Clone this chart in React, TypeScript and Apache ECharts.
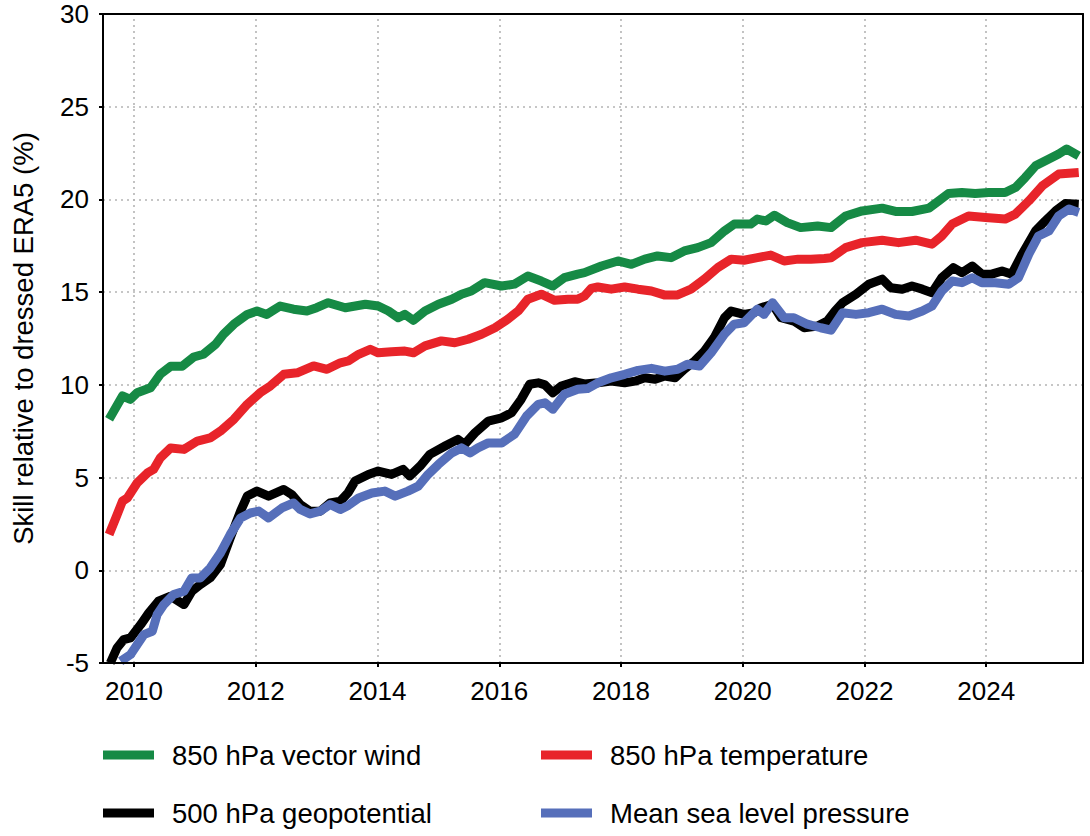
import React, { useEffect, useRef } from "react";
import * as echarts from "echarts";

// ---- Axis ticks ----
const xTickYears = [2010, 2012, 2014, 2016, 2018, 2020, 2022, 2024];
const yMin = -5;
const yMax = 30;
const yStep = 5;
const xMin = 2009.49;
const xMax = 2025.59;

// ---- Series names ----
const names = [
  "850 hPa vector wind",
  "850 hPa temperature",
  "500 hPa geopotential",
  "Mean sea level pressure",
];
const colors = ["#168a45", "#e8242a", "#000000", "#566fba"];

// ---- 850 hPa vector wind ----
const windYears = [
  2009.59, 2009.81, 2009.94, 2010.05, 2010.27, 2010.35, 2010.43, 2010.6, 2010.79, 2010.98,
  2011.14, 2011.34, 2011.47, 2011.64, 2011.86, 2012.02, 2012.18, 2012.4, 2012.62, 2012.84,
  2013.0, 2013.19, 2013.47, 2013.8, 2014.01, 2014.18, 2014.34, 2014.45, 2014.59, 2014.78,
  2015.0, 2015.22, 2015.38, 2015.54, 2015.76, 2016.04, 2016.25, 2016.47, 2016.69, 2016.88,
  2017.07, 2017.29, 2017.4, 2017.68, 2017.95, 2018.17, 2018.39, 2018.6, 2018.82, 2019.04,
  2019.26, 2019.48, 2019.7, 2019.86, 2020.13, 2020.24, 2020.38, 2020.52, 2020.73, 2020.95,
  2021.23, 2021.45, 2021.69, 2021.96, 2022.29, 2022.51, 2022.78, 2023.06, 2023.22, 2023.38,
  2023.6, 2023.82, 2024.04, 2024.31, 2024.48, 2024.64, 2024.81, 2025.03, 2025.19, 2025.32,
  2025.52,
];
const windValues = [
  8.14, 9.4, 9.22, 9.57, 9.84, 10.2, 10.57, 11.0, 11.0, 11.5,
  11.65, 12.19, 12.73, 13.27, 13.8, 13.98, 13.8, 14.25, 14.08, 13.98,
  14.16, 14.43, 14.16, 14.35, 14.25, 13.98, 13.62, 13.8, 13.48, 13.98,
  14.35, 14.62, 14.89, 15.06, 15.51, 15.33, 15.43, 15.87, 15.6, 15.33,
  15.78, 15.97, 16.05, 16.41, 16.68, 16.5, 16.78, 16.95, 16.86, 17.22,
  17.4, 17.67, 18.3, 18.67, 18.67, 18.94, 18.84, 19.15, 18.75, 18.48,
  18.57, 18.48, 19.11, 19.38, 19.53, 19.35, 19.35, 19.53, 19.92, 20.32,
  20.37, 20.32, 20.37, 20.37, 20.64, 21.18, 21.81, 22.18, 22.45, 22.72,
  22.35,
];

// ---- 850 hPa temperature ----
const tempYears = [
  2009.59, 2009.7, 2009.81, 2009.89, 2010.05, 2010.22, 2010.32, 2010.43, 2010.6, 2010.82,
  2011.04, 2011.25, 2011.42, 2011.64, 2011.86, 2012.07, 2012.24, 2012.46, 2012.68, 2012.95,
  2013.17, 2013.39, 2013.52, 2013.69, 2013.88, 2014.01, 2014.23, 2014.45, 2014.59, 2014.78,
  2015.05, 2015.27, 2015.49, 2015.71, 2015.93, 2016.14, 2016.31, 2016.47, 2016.69, 2016.91,
  2017.13, 2017.29, 2017.4, 2017.51, 2017.62, 2017.84, 2018.06, 2018.28, 2018.5, 2018.71,
  2018.93, 2019.15, 2019.37, 2019.59, 2019.81, 2020.02, 2020.24, 2020.46, 2020.68, 2020.91,
  2021.12, 2021.34, 2021.45, 2021.69, 2021.96, 2022.29, 2022.56, 2022.84, 2023.11, 2023.27,
  2023.44, 2023.71, 2023.99, 2024.31, 2024.48, 2024.7, 2024.92, 2025.19, 2025.52,
];
const tempValues = [
  1.93, 2.82, 3.73, 3.9, 4.71, 5.25, 5.44, 6.06, 6.6, 6.52,
  6.97, 7.14, 7.51, 8.14, 8.95, 9.57, 9.94, 10.57, 10.65, 11.02,
  10.84, 11.19, 11.29, 11.65, 11.92, 11.73, 11.79, 11.82, 11.73, 12.1,
  12.37, 12.27, 12.46, 12.73, 13.08, 13.54, 13.98, 14.62, 14.89, 14.56,
  14.62, 14.62, 14.79, 15.2, 15.28, 15.16, 15.28, 15.16, 15.06, 14.85,
  14.85, 15.16, 15.7, 16.32, 16.78, 16.72, 16.86, 17.0, 16.68, 16.78,
  16.78, 16.81, 16.85, 17.4, 17.67, 17.8, 17.67, 17.8, 17.59, 18.03,
  18.67, 19.11, 19.02, 18.94, 19.21, 19.92, 20.73, 21.37, 21.45,
];

// ---- 500 hPa geopotential ----
const geoYears = [
  2009.61, 2009.72, 2009.83, 2009.94, 2010.11, 2010.24, 2010.4, 2010.6, 2010.82, 2010.95,
  2011.09, 2011.25, 2011.42, 2011.58, 2011.75, 2011.86, 2012.02, 2012.21, 2012.46, 2012.59,
  2012.73, 2012.89, 2013.06, 2013.22, 2013.39, 2013.52, 2013.63, 2013.85, 2014.01, 2014.23,
  2014.42, 2014.53, 2014.7, 2014.86, 2015.11, 2015.32, 2015.43, 2015.6, 2015.82, 2016.04,
  2016.2, 2016.36, 2016.5, 2016.64, 2016.75, 2016.88, 2017.02, 2017.24, 2017.4, 2017.62,
  2017.84, 2018.06, 2018.23, 2018.39, 2018.56, 2018.72, 2018.89, 2019.04, 2019.21, 2019.37,
  2019.53, 2019.7, 2019.81, 2020.02, 2020.19, 2020.3, 2020.49, 2020.63, 2020.84, 2021.01,
  2021.23, 2021.39, 2021.52, 2021.64, 2021.86, 2022.07, 2022.29, 2022.43, 2022.62, 2022.78,
  2022.95, 2023.11, 2023.27, 2023.46, 2023.6, 2023.77, 2023.93, 2024.09, 2024.26, 2024.42,
  2024.59, 2024.81, 2024.97, 2025.14, 2025.3, 2025.52,
];
const geoValues = [
  -5.0, -4.19, -3.74, -3.65, -2.93, -2.31, -1.67, -1.4, -1.85, -1.13,
  -0.77, -0.41, 0.31, 1.74, 3.19, 4.0, 4.27, 4.0, 4.36, 4.09,
  3.55, 3.19, 3.19, 3.63, 3.73, 4.2, 4.81, 5.17, 5.35, 5.17,
  5.44, 5.08, 5.62, 6.25, 6.7, 7.06, 6.79, 7.41, 8.05, 8.22,
  8.49, 9.22, 10.03, 10.11, 10.0, 9.57, 9.94, 10.17, 10.05, 10.11,
  10.2, 10.11, 10.2, 10.38, 10.3, 10.48, 10.38, 10.84, 11.29, 11.82,
  12.54, 13.62, 13.98, 13.8, 13.89, 14.16, 14.35, 13.62, 13.44, 13.08,
  13.17, 13.44, 14.0, 14.43, 14.89, 15.43, 15.7, 15.24, 15.16, 15.33,
  15.16, 14.97, 15.78, 16.32, 16.05, 16.41, 15.97, 15.97, 16.14, 15.97,
  17.05, 18.3, 18.84, 19.38, 19.78, 19.74,
];

// ---- Mean sea level pressure ----
const mslpYears = [
  2009.78, 2009.94, 2010.05, 2010.16, 2010.3, 2010.38, 2010.49, 2010.65, 2010.82, 2010.95,
  2011.09, 2011.25, 2011.42, 2011.58, 2011.75, 2011.91, 2012.05, 2012.21, 2012.43, 2012.62,
  2012.73, 2012.89, 2013.06, 2013.22, 2013.39, 2013.52, 2013.69, 2013.91, 2014.12, 2014.29,
  2014.5, 2014.67, 2014.83, 2015.0, 2015.22, 2015.38, 2015.52, 2015.65, 2015.82, 2016.04,
  2016.25, 2016.45, 2016.64, 2016.75, 2016.88, 2017.07, 2017.29, 2017.45, 2017.62, 2017.84,
  2018.06, 2018.28, 2018.5, 2018.72, 2018.93, 2019.09, 2019.29, 2019.48, 2019.7, 2019.86,
  2020.02, 2020.24, 2020.35, 2020.49, 2020.68, 2020.84, 2021.06, 2021.28, 2021.45, 2021.64,
  2021.86, 2022.07, 2022.29, 2022.51, 2022.73, 2022.95, 2023.11, 2023.27, 2023.44, 2023.6,
  2023.77, 2023.93, 2024.15, 2024.37, 2024.53, 2024.7, 2024.86, 2025.03, 2025.19, 2025.36,
  2025.52,
];
const mslpValues = [
  -4.91, -4.55, -4.01, -3.47, -3.29, -2.39, -1.85, -1.31, -1.13, -0.41,
  -0.41, 0.12, 0.94, 1.93, 2.82, 3.09, 3.19, 2.82, 3.36, 3.63,
  3.28, 3.04, 3.19, 3.55, 3.28, 3.5, 3.9, 4.17, 4.27, 4.0,
  4.27, 4.54, 5.17, 5.71, 6.33, 6.6, 6.33, 6.6, 6.87, 6.87,
  7.33, 8.32, 8.95, 9.03, 8.68, 9.49, 9.76, 9.8, 10.11, 10.38,
  10.57, 10.78, 10.89, 10.74, 10.84, 11.11, 11.02, 11.73, 12.73, 13.27,
  13.35, 14.08, 13.8, 14.43, 13.62, 13.62, 13.27, 13.08, 12.95, 13.89,
  13.8, 13.89, 14.08, 13.8, 13.71, 13.98, 14.25, 15.06, 15.6, 15.51,
  15.78, 15.51, 15.51, 15.43, 15.78, 17.05, 18.03, 18.3, 19.11, 19.48,
  19.3,
];

const yAxisName = "Skill relative to dressed ERA5 (%)";
const FONT = "'Liberation Sans', Arial, Helvetica, sans-serif";
const GRID_COLOR = "#b4b4b4";

function pairs(xs: number[], ys: number[]) {
  return xs.map((x, i) => [x, ys[i]]);
}

export default function App() {
  const ref = useRef<HTMLDivElement>(null);

  useEffect(() => {
    if (!ref.current) return;
    const chart = echarts.init(ref.current, undefined, { renderer: "svg" });
    const seriesData = [
      pairs(windYears, windValues),
      pairs(tempYears, tempValues),
      pairs(geoYears, geoValues),
      pairs(mslpYears, mslpValues),
    ];
    const dotted = { color: GRID_COLOR, width: 1.6, type: [2, 4] as any };
    const legendCommon = {
      orient: "vertical" as const,
      top: 741,
      padding: 0,
      itemWidth: 51,
      itemHeight: 9,
      itemGap: 30,
      icon: "rect",
      itemStyle: { borderWidth: 0 },
      textStyle: { fontSize: 27.5, color: "#000", fontFamily: FONT, padding: [0, 0, 0, 13] },
      selectedMode: false,
    };
    const boxLine = { show: true, onZero: false, lineStyle: { color: "#000", width: 2 } };
    chart.setOption({
      animation: false,
      textStyle: { fontFamily: FONT },
      grid: { left: 103, right: 7, top: 14, bottom: 173, containLabel: false },
      legend: [
        { ...legendCommon, left: 103, data: [names[0], names[2]] },
        { ...legendCommon, left: 541, data: [names[1], names[3]] },
      ],
      xAxis: [
        {
          type: "value",
          min: xMin,
          max: xMax,
          position: "bottom",
          axisLine: boxLine,
          axisTick: {
            show: true,
            inside: false,
            length: 4,
            lineStyle: { color: "#000", width: 2 },
            customValues: xTickYears,
          },
          axisLabel: {
            fontSize: 26,
            color: "#000",
            margin: 15,
            fontFamily: FONT,
            customValues: xTickYears,
            formatter: (v: number) => String(Math.round(v)),
          },
          splitLine: { show: false },
          z: 10,
        },
        {
          type: "value",
          min: xMin,
          max: xMax,
          position: "top",
          axisLine: boxLine,
          axisTick: { show: false },
          axisLabel: { show: false },
          splitLine: { show: false },
          z: 10,
        },
      ],
      yAxis: [
        {
          type: "value",
          min: yMin,
          max: yMax,
          interval: yStep,
          position: "left",
          name: yAxisName,
          nameLocation: "middle",
          nameGap: 66,
          nameTextStyle: { fontSize: 27.5, color: "#000", fontFamily: FONT },
          axisLine: boxLine,
          axisTick: { show: true, inside: false, length: 4, lineStyle: { color: "#000", width: 2 } },
          axisLabel: { fontSize: 26, color: "#000", margin: 14, fontFamily: FONT },
          splitLine: { show: true, showMinLine: false, showMaxLine: false, lineStyle: dotted },
          z: 0,
        },
        {
          type: "value",
          min: yMin,
          max: yMax,
          position: "right",
          axisLine: boxLine,
          axisTick: { show: false },
          axisLabel: { show: false },
          splitLine: { show: false },
          z: 10,
        },
      ],
      series: names.map((name, i) => ({
        name,
        type: "line",
        data: seriesData[i],
        showSymbol: false,
        symbol: "none",
        color: colors[i],
        itemStyle: { color: colors[i] },
        lineStyle: { color: colors[i], width: 9, join: "round", cap: "butt" },
        clip: true,
        z: 3 + i,
        ...(i === 0
          ? {
              markLine: {
                silent: true,
                symbol: "none",
                animation: false,
                z: 1,
                label: { show: false },
                lineStyle: dotted,
                emphasis: { disabled: true },
                data: xTickYears.map((x) => ({ xAxis: x })),
              },
            }
          : {}),
      })),
    });
    return () => chart.dispose();
  }, []);

  return (
    <div
      ref={ref}
      style={{ position: "fixed", left: 0, top: 0, width: 1090, height: 836, background: "#fff" }}
    />
  );
}
